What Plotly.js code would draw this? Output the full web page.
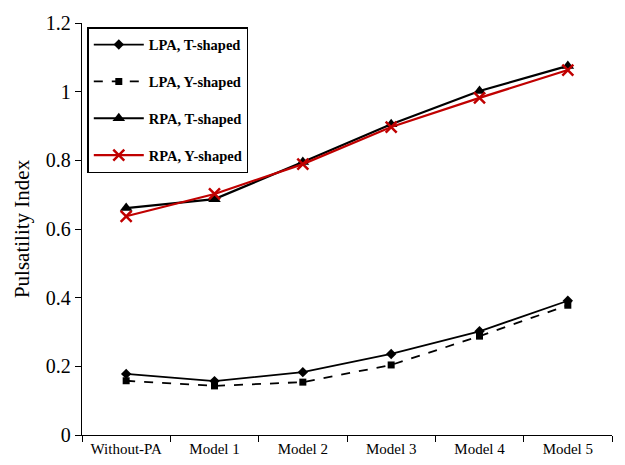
<!DOCTYPE html>
<html><head><meta charset="utf-8">
<script src="https://cdn.plot.ly/plotly-3.0.1.min.js"></script>
<style>html,body{margin:0;padding:0;background:#fff}#chart{width:625px;height:465px}</style>
</head><body><div id="chart"></div>
<script>
var categories = ["Without-PA", "Model 1", "Model 2", "Model 3", "Model 4", "Model 5"];
var lpaT = [0.178, 0.157, 0.183, 0.236, 0.302, 0.391];
var lpaY = [0.158, 0.143, 0.154, 0.204, 0.288, 0.378];
var rpaT = [0.661, 0.687, 0.795, 0.905, 1.002, 1.075];
var rpaY = [0.637, 0.702, 0.789, 0.897, 0.982, 1.063];
var yTicks = [0, 0.2, 0.4, 0.6, 0.8, 1, 1.2];

var traces = [
  {x: categories, y: lpaT, name: "LPA, T-shaped", mode: "lines+markers", legendgroup: "a",
   line: {color: "#000", width: 1.8}, marker: {symbol: "diamond", size: 8, color: "#000"}},
  {x: categories, y: lpaY, name: "LPA, Y-shaped", mode: "lines+markers", legendgroup: "b",
   line: {color: "#000", width: 1.8, dash: "dash"}, marker: {symbol: "square", size: 7, color: "#000"}},
  {x: categories, y: rpaT, name: "RPA, T-shaped", mode: "lines+markers", legendgroup: "c",
   line: {color: "#000", width: 2.2}, marker: {symbol: "triangle-up", size: 11, color: "#000"}},
  {x: categories, y: rpaY, name: "RPA, Y-shaped", mode: "lines+markers", legendgroup: "d",
   line: {color: "#c00000", width: 2.2}, marker: {symbol: "x-thin-open", size: 11, color: "#c00000", line: {color: "#c00000", width: 2.5}}}
];

var layout = {
  width: 625, height: 465,
  margin: {l: 82, r: 13, t: 23, b: 30},
  paper_bgcolor: "#fff", plot_bgcolor: "#fff",
  font: {family: "Liberation Serif, Times New Roman, serif", color: "#000"},
  showlegend: true,
  legend: {x: 0.01, y: 0.99, xanchor: "left", yanchor: "top",
    bordercolor: "#000", borderwidth: 1.5, bgcolor: "#fff",
    font: {family: "Liberation Serif, serif", size: 14.5, weight: "bold", color: "#000"},
    tracegroupgap: 15, traceorder: "grouped", itemwidth: 50, entrywidth: 160},
  xaxis: {type: "category", range: [-0.5, 5.5], showgrid: false, zeroline: false,
    showline: true, linecolor: "#000", linewidth: 1.2, ticks: "outside", ticklen: 6,
    tickcolor: "#000", tickson: "boundaries", tickfont: {size: 15, color: "#000"}},
  yaxis: {range: [0, 1.2], tickvals: yTicks, ticktext: yTicks.map(String), showgrid: false, zeroline: false,
    showline: true, linecolor: "#000", linewidth: 1.2, ticks: "outside", ticklen: 6,
    tickcolor: "#000", tickfont: {size: 20, color: "#000"},
    title: {text: "Pulsatility Index", font: {size: 21, color: "#000"}, standoff: 10}}
};
Plotly.newPlot("chart", traces, layout, {displayModeBar: false, staticPlot: true});
</script></body></html>
